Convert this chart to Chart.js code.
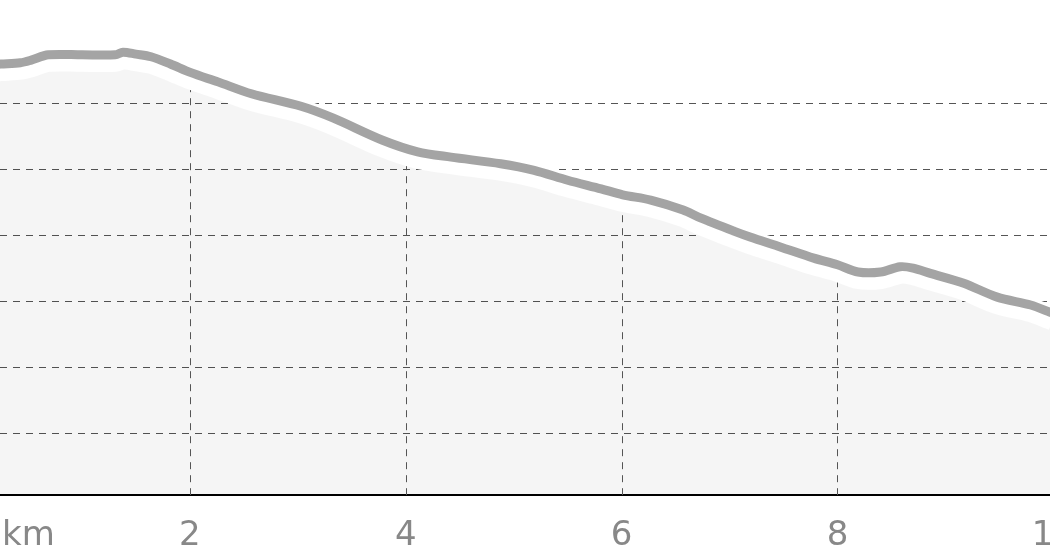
<!DOCTYPE html>
<html>
<head>
<meta charset="utf-8">
<script src="https://cdn.jsdelivr.net/npm/chart.js@4.4.1/dist/chart.umd.min.js"></script>
<style>
  html, body { margin: 0; padding: 0; width: 1050px; height: 560px; overflow: hidden; background: #fff; }
  #wrap { position: absolute; left: -47px; top: 0; }
</style>
</head>
<body>
<div id="wrap"><canvas id="profile" width="1143" height="578"></canvas></div>
<script>
// distance along the route (km) and elevation
const distances = [0, 0.25, 0.43, 0.53, 0.69, 1.0, 1.31, 1.38, 1.5, 1.64, 1.82, 2.01, 2.26, 2.57, 3.03, 3.33,
  3.78, 4.11, 4.42, 4.88, 5.19, 5.5, 5.81, 6.01, 6.27, 6.57, 6.73, 7.04, 7.19, 7.47, 7.78, 8.0,
  8.19, 8.4, 8.58, 8.7, 8.86, 9.17, 9.48, 9.79, 9.97, 10.0];
const elevations = [65.6, 65.9, 66.1, 66.5, 67.3, 67.3, 67.3, 67.7, 67.4, 67.0, 65.9, 64.6, 63.2, 61.4, 59.5, 57.7,
  54.4, 52.6, 51.8, 50.8, 49.8, 48.3, 47.0, 46.1, 45.3, 43.8, 42.6, 40.6, 39.7, 38.2, 36.5, 35.5,
  34.4, 34.4, 35.2, 35.0, 34.2, 32.7, 30.6, 29.4, 28.3, 28.1];

const xTickValues = [0, 2, 4, 6, 8, 10];
const xTickLabels = ['km', '2', '4', '6', '8', '10'];
const yGridValues = [10, 20, 30, 40, 50, 60];

const gridColor = '#555';
const gridDash = [7, 6];
const labelColor = '#888';
const labelFont = { family: 'DejaVu Sans', size: 34 };
const tickPad = 21;

const points = distances.map((d, i) => ({ x: d, y: elevations[i] }));

// white halo under the line is shifted a bit down, vertical grid only inside the fill
const profileLayers = {
    id: 'profileLayers',
    beforeDatasetDraw(chart, args) {
        if (args.index === 1) {
            chart.ctx.save();
            chart.ctx.translate(0, 5);
        }
    },
    afterDatasetDraw(chart, args) {
        const ctx = chart.ctx;
        if (args.index === 1) {
            ctx.restore();
            return;
        }
        if (args.index !== 2) return;
        const pts = args.meta.data;
        const area = chart.chartArea;
        const xs = chart.scales.x;
        ctx.save();
        ctx.beginPath();
        ctx.moveTo(pts[0].x, area.bottom);
        pts.forEach(p => ctx.lineTo(p.x, p.y));
        ctx.lineTo(pts[pts.length - 1].x, area.bottom);
        ctx.closePath();
        ctx.clip();
        ctx.strokeStyle = gridColor;
        ctx.lineWidth = 1;
        ctx.setLineDash(gridDash);
        xs.ticks.forEach(t => {
            if (t.value <= xs.min || t.value >= xs.max) return;
            const px = Math.round(xs.getPixelForValue(t.value)) + 0.5;
            ctx.beginPath();
            ctx.moveTo(px, area.bottom);
            ctx.lineTo(px, area.top);
            ctx.stroke();
        });
        ctx.restore();
    },
    afterDraw(chart) {
        // unit label sits at the visible left edge
        const ctx = chart.ctx;
        const xs = chart.scales.x;
        ctx.save();
        ctx.font = labelFont.size + 'px "' + labelFont.family + '"';
        ctx.fillStyle = labelColor;
        ctx.textAlign = 'left';
        ctx.textBaseline = 'middle';
        ctx.fillText(xTickLabels[0], xs.getPixelForValue(0) + 28, xs.top + tickPad + labelFont.size * 0.6);
        ctx.restore();
    }
};

const ctx = document.getElementById('profile').getContext('2d');
new Chart(ctx, {
    type: 'line',
    data: {
        datasets: [
            {
                data: points,
                borderColor: '#a4a4a4',
                borderWidth: 9,
                borderJoinStyle: 'round',
                borderCapStyle: 'round',
                pointRadius: 0,
                tension: 0.3,
                fill: false
            },
            {
                data: points,
                borderColor: '#ffffff',
                borderWidth: 24,
                borderJoinStyle: 'round',
                pointRadius: 0,
                tension: 0.3,
                fill: false
            },
            {
                data: points,
                borderWidth: 0,
                borderColor: 'rgba(0,0,0,0)',
                backgroundColor: 'rgba(0,0,0,0.04)',
                pointRadius: 0,
                tension: 0.3,
                fill: 'start'
            }
        ]
    },
    options: {
        responsive: false,
        animation: false,
        layout: { padding: 0 },
        plugins: {
            legend: { display: false },
            tooltip: { enabled: false }
        },
        scales: {
            x: {
                type: 'linear',
                min: 0,
                max: 10,
                afterBuildTicks: scale => { scale.ticks = xTickValues.map(v => ({ value: v })); },
                grid: { display: false, drawTicks: false },
                border: { display: true, color: '#000', width: 2 },
                ticks: {
                    font: labelFont,
                    color: labelColor,
                    padding: tickPad,
                    maxRotation: 0,
                    autoSkip: false,
                    callback: (v, i) => i === 0 ? '' : xTickLabels[xTickValues.indexOf(v)]
                }
            },
            y: {
                min: 0.6,
                max: 75.6,
                afterBuildTicks: scale => { scale.ticks = yGridValues.map(v => ({ value: v })); },
                grid: { color: gridColor, lineWidth: 1, drawTicks: false },
                border: { display: false, dash: gridDash },
                ticks: { display: false }
            }
        }
    },
    plugins: [profileLayers]
});
</script>
</body>
</html>
